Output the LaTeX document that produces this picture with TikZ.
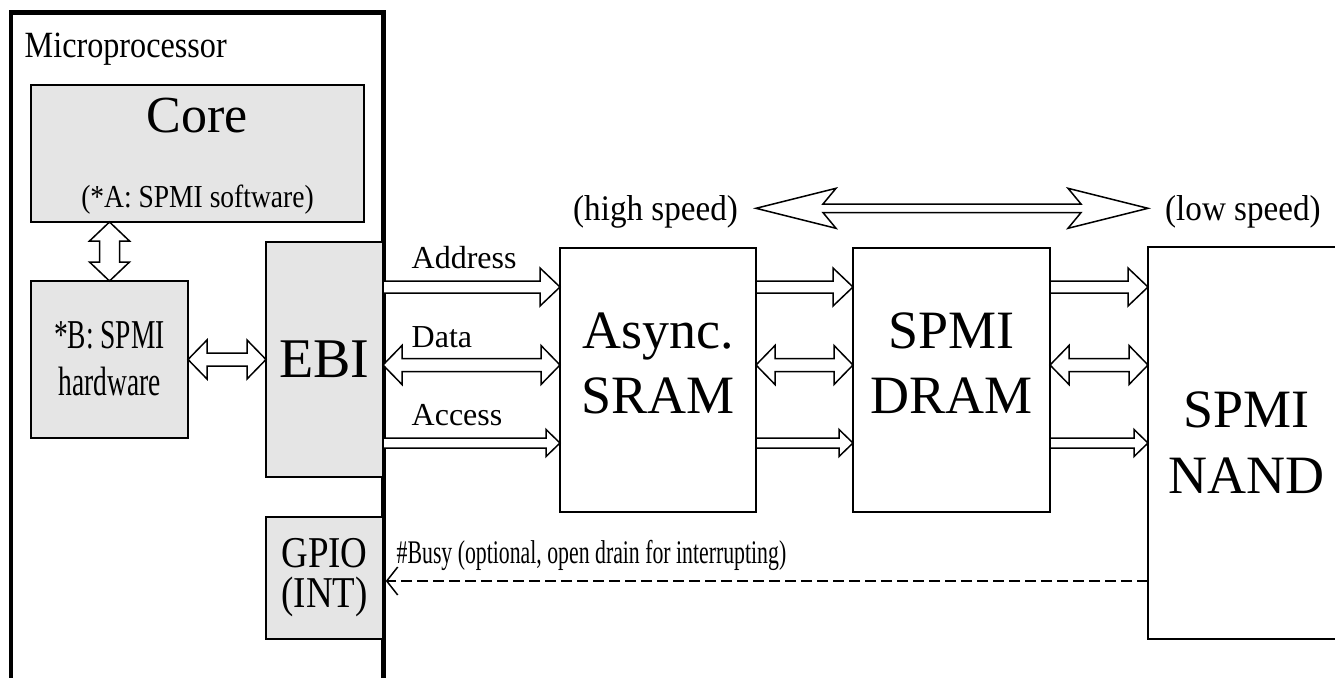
\documentclass[tikz,border=0pt]{standalone}
\usepackage{fontspec}
\setmainfont{Liberation Serif}
\usetikzlibrary{calc,arrows.meta}
\newcommand\fsz[3]{\fontsize{#1}{#2}\selectfont\addfontfeatures{FakeStretch=#3}}
% horizontal fat arrow, head at #2: #3 shaft half, #4 head half, #5 head length
\newcommand\fatR[5]{\draw[fat] ($(#1)+(0,-#3)$) -- ($(#2)+(-#5,-#3)$) -- ($(#2)+(-#5,-#4)$) -- (#2) -- ($(#2)+(-#5,#4)$) -- ($(#2)+(-#5,#3)$) -- ($(#1)+(0,#3)$) -- cycle;}
% horizontal fat double arrow
\newcommand\fatLR[5]{\draw[fat] ($(#1)+(#5,-#3)$) -- ($(#2)+(-#5,-#3)$) -- ($(#2)+(-#5,-#4)$) -- (#2) -- ($(#2)+(-#5,#4)$) -- ($(#2)+(-#5,#3)$) -- ($(#1)+(#5,#3)$) -- ($(#1)+(#5,#4)$) -- (#1) -- ($(#1)+(#5,-#4)$) -- cycle;}
% vertical fat double arrow (#1 top, #2 bottom)
\newcommand\fatUD[5]{\draw[fat] ($(#1)+(-#3,#5)$) -- ($(#2)+(-#3,-#5)$) -- ($(#2)+(-#4,-#5)$) -- (#2) -- ($(#2)+(#4,-#5)$) -- ($(#2)+(#3,-#5)$) -- ($(#1)+(#3,#5)$) -- ($(#1)+(#4,#5)$) -- (#1) -- ($(#1)+(-#4,#5)$) -- cycle;}
\begin{document}
\begin{tikzpicture}[x=1pt,y=-1pt,
  gbox/.style={draw, line width=1.8pt, fill=gray!20, inner sep=0pt, outer sep=0pt, align=center, text depth=0pt},
  wbox/.style={draw, line width=1.8pt, fill=white, inner sep=0pt, outer sep=0pt, align=center, text depth=0pt},
  fat/.style={draw, line width=1.5pt, fill=white, line join=miter},
  lbl/.style={inner sep=0pt, anchor=base west}]
\useasboundingbox (0,0) rectangle (1335,677);
\clip (0,0) rectangle (1335,677);
% microprocessor frame
\node[draw, line width=4.5pt, minimum width=372.7, minimum height=668.5, inner sep=0pt] (mp) at (197.15,346.75) {};
\node[lbl, font=\fsz{37}{44}{0.87}] (mplabel) at (24.5,57) {Microprocessor};
% inner blocks
\node[gbox, minimum width=333, minimum height=137, text height=107, font=\fsz{32}{75}{0.86}] (core) at (197.5,153.5) {{\fsz{52}{60}{1}Core}\\(*A: SPMI software)};
\node[gbox, minimum width=157, minimum height=157, text height=71, font=\fsz{41}{47}{0.67}] (hw) at (109.5,359.5) {*B: SPMI\\hardware};
\node[gbox, minimum width=117, minimum height=235, text height=35, font=\fsz{56}{64}{1}] (ebi) at (324.5,359.5) {EBI};
\node[gbox, minimum width=117, minimum height=122, text height=58, font=\fsz{44}{40}{0.84}] (gpio) at (324.5,578) {GPIO\\(INT)};
% memories
\node[wbox, minimum width=196, minimum height=264, text height=66, font=\fsz{54}{65}{1}] (sram) at (658,380) {Async.\\SRAM};
\node[wbox, minimum width=197, minimum height=264, text height=66, font=\fsz{54}{65}{1}] (dram) at (951.5,380) {SPMI\\DRAM};
\node[wbox, minimum width=197, minimum height=392, text height=100, font=\fsz{54}{66}{1}] (nand) at (1246.5,443) {SPMI\\NAND};
% row coordinates
\coordinate (rA) at (0,287);
\coordinate (rD) at (0,365);
\coordinate (rC) at (0,443);
\coordinate (rS) at (0,208.3);
\coordinate (rB) at (0,581);
% core <-> hardware, hardware <-> EBI
\coordinate (cv1) at (hw.north |- core.south);
\fatUD{cv1}{hw.north}{10}{20}{19}
\coordinate (he1) at (hw.east);
\coordinate (he2) at (ebi.west |- hw.east);
\fatLR{he1}{he2}{6.5}{19.5}{19}
% EBI -> SRAM
\coordinate (a1) at (ebi.east |- rA); \coordinate (a2) at (sram.west |- rA);
\coordinate (d1) at (ebi.east |- rD); \coordinate (d2) at (sram.west |- rD);
\coordinate (c1) at (ebi.east |- rC); \coordinate (c2) at (sram.west |- rC);
\fatR{a1}{a2}{6}{19}{20}
\fatLR{d1}{d2}{6.5}{19.5}{19}
\fatR{c1}{c2}{5}{13.5}{14}
% SRAM -> DRAM
\coordinate (a3) at (sram.east |- rA); \coordinate (a4) at (dram.west |- rA);
\coordinate (d3) at (sram.east |- rD); \coordinate (d4) at (dram.west |- rD);
\coordinate (c3) at (sram.east |- rC); \coordinate (c4) at (dram.west |- rC);
\fatR{a3}{a4}{6}{19}{20}
\fatLR{d3}{d4}{6.5}{19.5}{19}
\fatR{c3}{c4}{5}{13.5}{14}
% DRAM -> NAND
\coordinate (a5) at (dram.east |- rA); \coordinate (a6) at (nand.west |- rA);
\coordinate (d5) at (dram.east |- rD); \coordinate (d6) at (nand.west |- rD);
\coordinate (c5) at (dram.east |- rC); \coordinate (c6) at (nand.west |- rC);
\fatR{a5}{a6}{6}{19}{20}
\fatLR{d5}{d6}{6.5}{19.5}{19}
\fatR{c5}{c6}{5}{13.5}{14}
% labels on bus
\node[lbl, font=\fsz{32}{38}{1}] (tAddr) at (411.5,268) {Address};
\node[lbl, font=\fsz{32}{38}{1}] (tData) at (411.5,347) {Data};
\node[lbl, font=\fsz{32}{38}{1}] (tAcc) at (411.5,425) {Access};
% speed arrow
\coordinate (sp1) at (sram.east |- rS);
\coordinate (sp2) at (nand.west |- rS);
\draw[fat] (sp1) -- ($(sp1)+(80,-20)$) -- ($(sp1)+(67,-4.3)$) -- ($(sp2)+(-67,-4.3)$) -- ($(sp2)+(-80,-20)$) -- (sp2) -- ($(sp2)+(-80,20)$) -- ($(sp2)+(-67,4.3)$) -- ($(sp1)+(67,4.3)$) -- ($(sp1)+(80,20)$) -- cycle;
\node[lbl, font=\fsz{36}{42}{0.92}] (tHigh) at (573,220) {(high speed)};
\node[lbl, font=\fsz{36}{42}{0.92}] (tLow) at (1165,220) {(low speed)};
% busy line
\coordinate (b1) at (nand.west |- rB);
\coordinate (b2) at (mp.east |- rB);
\draw[line width=1.5pt, dash pattern=on 11pt off 5pt, -{Straight Barb[length=11pt,width=28pt,line width=1.5pt]}] (b1) -- (b2);
\node[lbl, font=\fsz{33}{38}{0.66}] (tBusy) at (396.5,563) {\#Busy (optional, open drain for interrupting)};
\end{tikzpicture}
\end{document}
